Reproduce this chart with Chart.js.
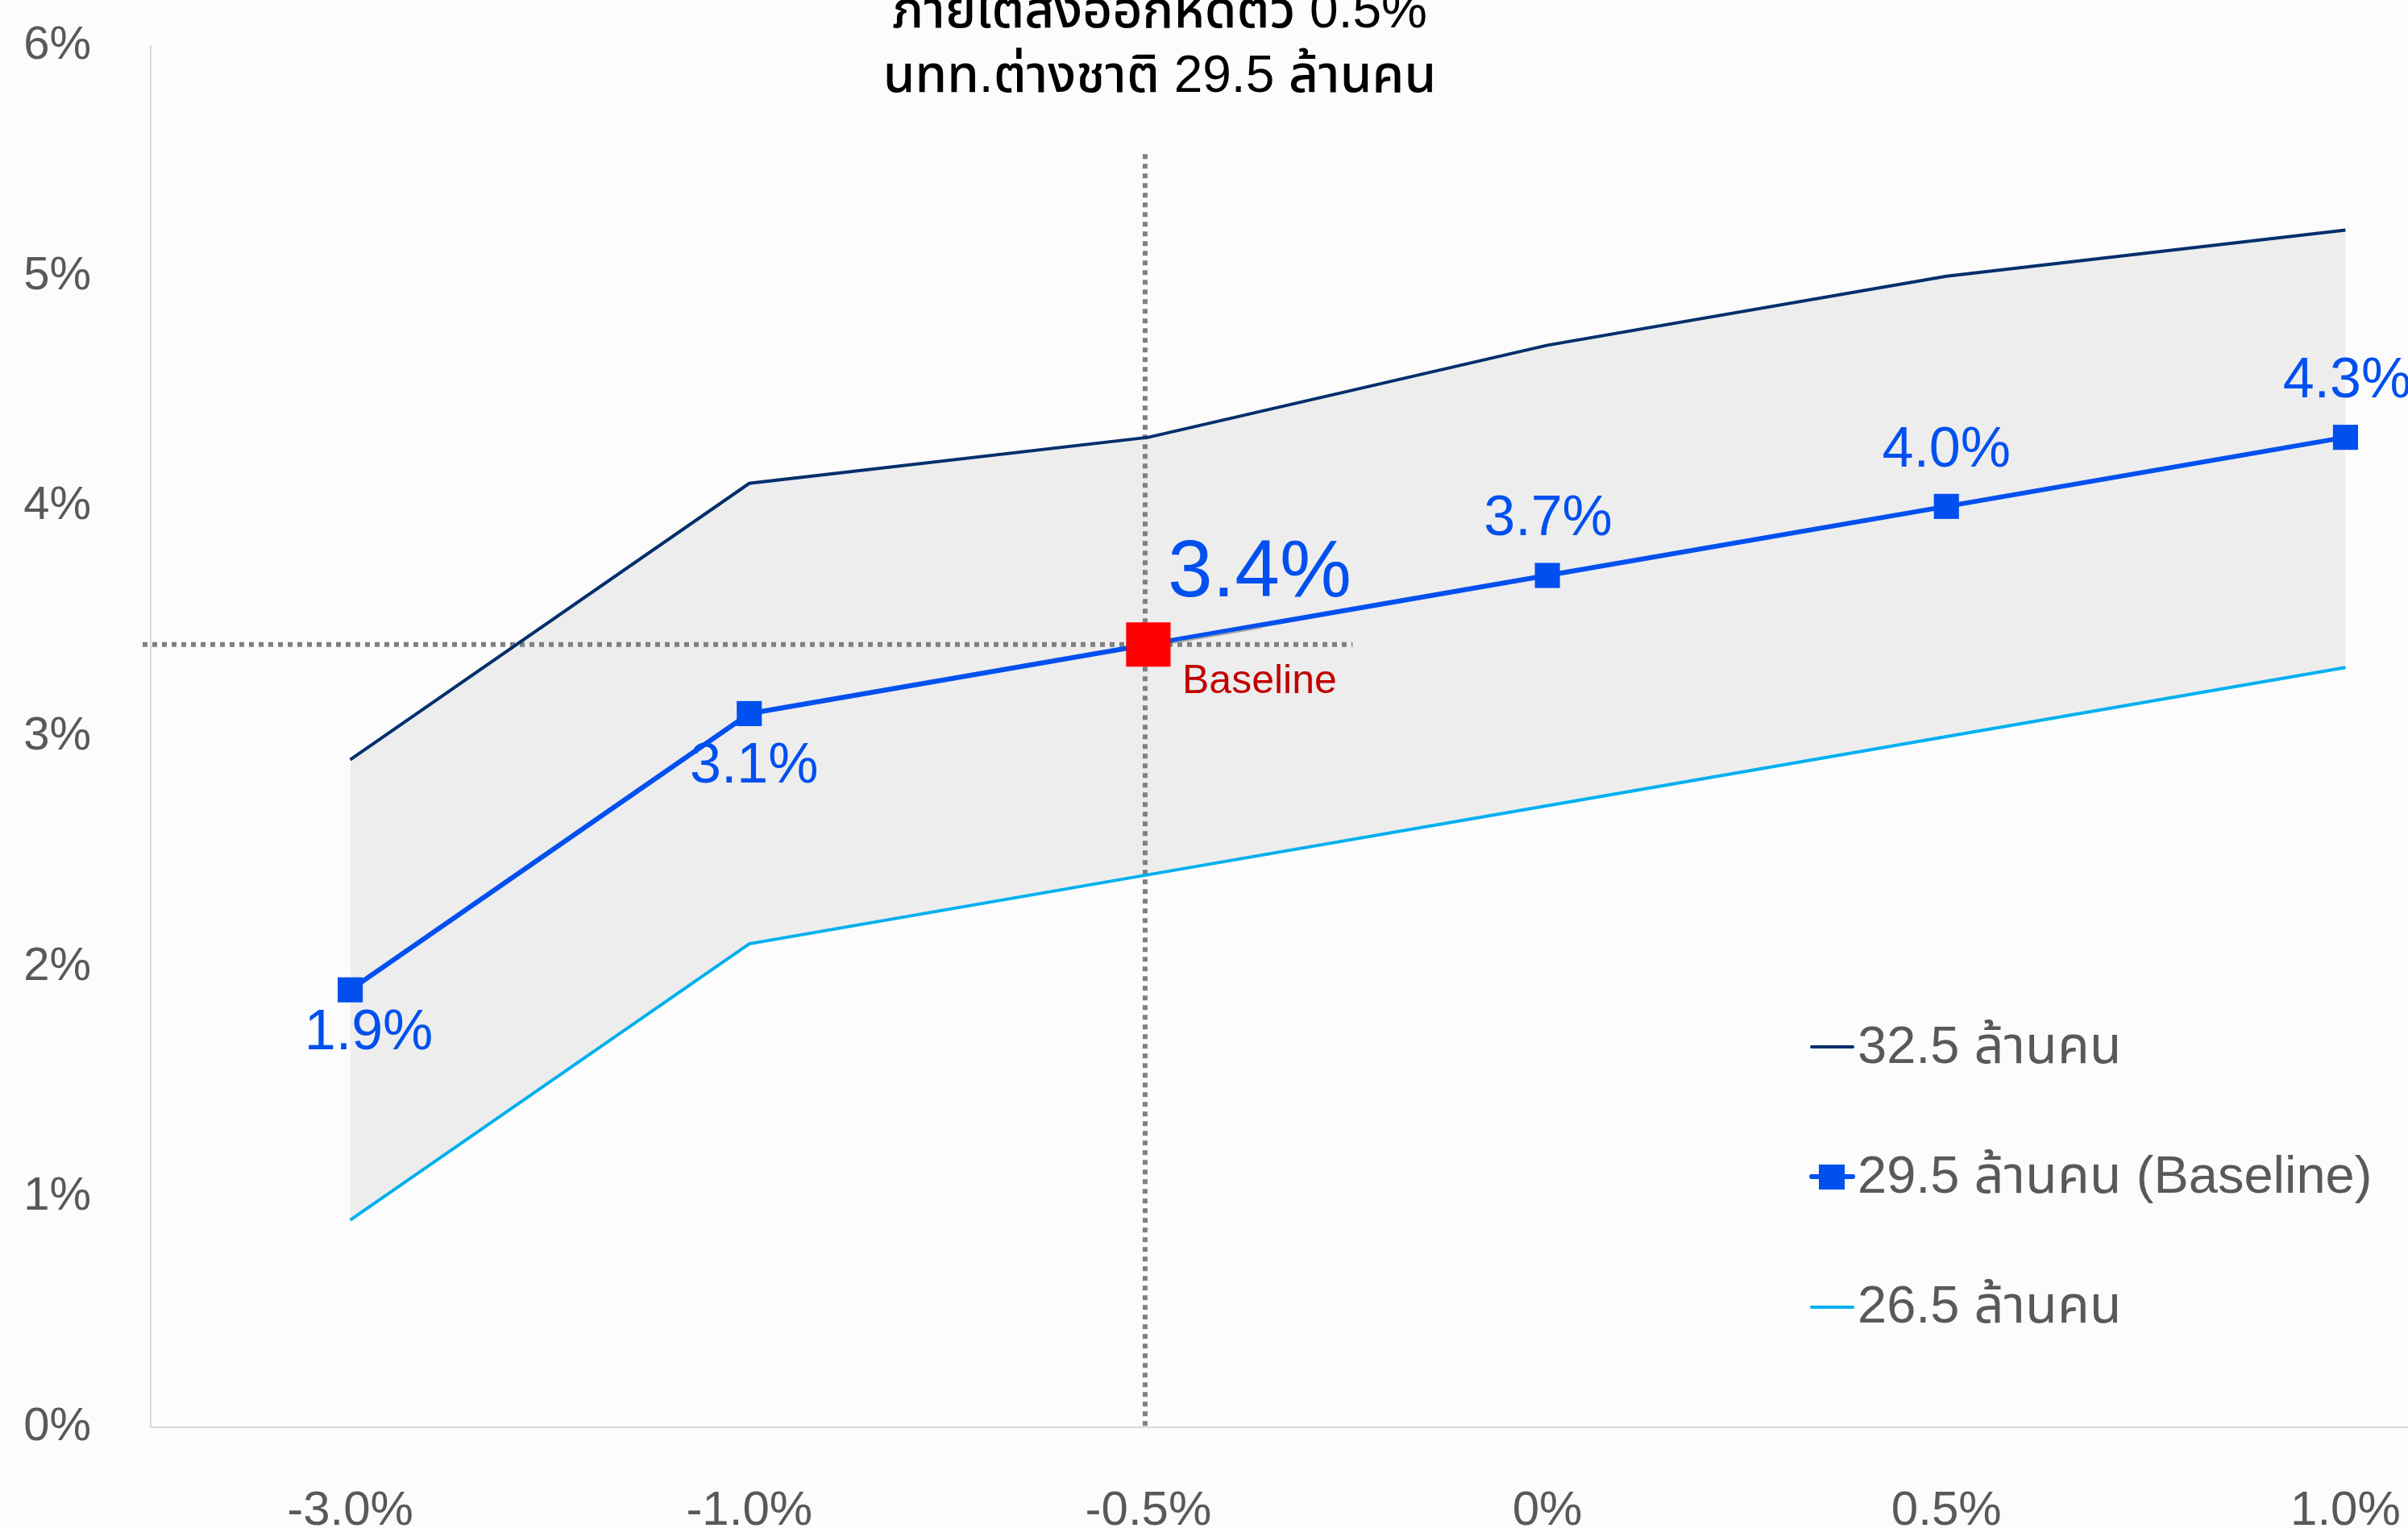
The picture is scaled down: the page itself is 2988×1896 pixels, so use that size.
<!DOCTYPE html>
<html>
<head>
<meta charset="utf-8">
<script src="https://cdn.jsdelivr.net/npm/chart.js@4.4.1/dist/chart.umd.min.js"></script>
<style>
  html, body { margin: 0; padding: 0; background: #FCFCFC; overflow: hidden; }
  #wrap { position: absolute; left: 0; top: 0; width: 3197px; height: 1896px; }
</style>
</head>
<body>
<div id="wrap"><canvas id="c" width="3197" height="1896"></canvas></div>
<script>
// Export growth scenarios (x) vs GDP growth (y), for three foreign-tourist assumptions
const categories = ['-3.0%', '-1.0%', '-0.5%', '0%', '0.5%', '1.0%'];
const tourists325 = [2.9, 4.1, 4.3, 4.7, 5.0, 5.2];
const tourists295 = [1.9, 3.1, 3.4, 3.7, 4.0, 4.3];
const tourists265 = [0.9, 2.1, 2.4, 2.7, 3.0, 3.3];
const seriesNames = ['32.5 ล้านคน', '29.5 ล้านคน (Baseline)', '26.5 ล้านคน'];
const yTicks = [0, 1, 2, 3, 4, 5, 6];
const baselineIndex = 2;              // the -0.5% export scenario
const guideTop = 5.53;                // upper end of the vertical guide
const titleLines = ['ภายใต้ส่งออกหดตัว 0.5%', 'นทท.ต่างชาติ 29.5 ล้านคน'];

const FONT = '"Liberation Sans", "Noto Sans Thai", "Noto Sans", Arial, sans-serif';
const NAVY = '#002F6C', BLUE = '#0050EF', SKY = '#00B0F0', RED = '#FF0000';

const baselineMarker = categories.map((_, i) => i === baselineIndex ? tourists295[i] : null);

// label placement for the baseline series (offsets in px from each point)
const labelPlace = [
  { dx: 23, dy: 74 }, { dx: 6, dy: 86 }, null,
  { dx: 1, dy: -50 }, { dx: 0, dy: -49 }, { dx: 2, dy: -50 }
];

const overlay = {
  id: 'overlay',
  beforeDatasetsDraw(chart) {
    const { ctx } = chart;
    const x = chart.scales.x, y = chart.scales.y;
    const bx = x.getPixelForValue(baselineIndex) - 4;
    const by = y.getPixelForValue(tourists295[baselineIndex]);
    ctx.save();
    ctx.strokeStyle = '#808080';
    ctx.lineWidth = 6;
    ctx.lineCap = 'butt';
    ctx.setLineDash([6, 6]);
    ctx.beginPath();
    ctx.moveTo(bx, y.getPixelForValue(guideTop));
    ctx.lineTo(bx, y.getPixelForValue(0));
    ctx.stroke();
    const step = x.getPixelForValue(1) - x.getPixelForValue(0);
    ctx.beginPath();
    ctx.moveTo(chart.chartArea.left - 10, by);
    ctx.lineTo(bx + step * 0.52, by);
    ctx.stroke();
    ctx.restore();
  },
  afterDraw(chart) {
    const { ctx } = chart;
    const x = chart.scales.x, y = chart.scales.y;
    ctx.save();
    // title
    ctx.fillStyle = '#000000';
    ctx.font = '500 64px ' + FONT;
    ctx.textAlign = 'center';
    ctx.textBaseline = 'alphabetic';
    ctx.fillText(titleLines[0], 1439, 34);
    ctx.fillText(titleLines[1], 1439, 114);

    // value labels on the baseline series
    ctx.fillStyle = BLUE;
    ctx.font = '70px ' + FONT;
    tourists295.forEach((v, i) => {
      const p = labelPlace[i];
      if (!p) return;
      const px = x.getPixelForValue(i), py = y.getPixelForValue(v);
      ctx.fillText(v.toFixed(1) + '%', px + p.dx, py + p.dy);
    });

    // baseline callout
    const bx = x.getPixelForValue(baselineIndex);
    const by = y.getPixelForValue(tourists295[baselineIndex]);
    ctx.strokeStyle = '#A6A6A6';
    ctx.lineWidth = 2;
    ctx.beginPath();
    ctx.moveTo(bx + 30, by - 2);
    ctx.lineTo(bx + 141, by - 21);
    ctx.stroke();
    ctx.fillStyle = BLUE;
    ctx.font = '100px ' + FONT;
    ctx.fillText(tourists295[baselineIndex].toFixed(1) + '%', bx + 138, by - 60);
    ctx.fillStyle = '#C00000';
    ctx.font = '50px ' + FONT;
    ctx.fillText('Baseline', bx + 138, by + 60);

    // legend
    const rows = [
      { ds: 0, lineY: 1299, textY: 1319, width: 4 },
      { ds: 1, lineY: 1460, textY: 1480, width: 6, marker: true },
      { ds: 2, lineY: 1622, textY: 1641, width: 4 }
    ];
    ctx.textAlign = 'left';
    ctx.font = '65px ' + FONT;
    rows.forEach(r => {
      const ds = chart.data.datasets[r.ds];
      ctx.strokeStyle = ds.borderColor;
      ctx.lineWidth = r.width;
      ctx.lineCap = 'round';
      ctx.beginPath();
      ctx.moveTo(2248, r.lineY);
      ctx.lineTo(2299, r.lineY);
      ctx.stroke();
      if (r.marker) {
        ctx.fillStyle = ds.borderColor;
        ctx.fillRect(2257, r.lineY - 15, 32, 31);
      }
      ctx.fillStyle = '#595959';
      ctx.fillText(ds.label, 2305, r.textY);
    });
    ctx.restore();
  }
};

new Chart(document.getElementById('c'), {
  type: 'line',
  data: {
    labels: categories,
    datasets: [
      {
        label: seriesNames[0], data: tourists325,
        borderColor: NAVY, borderWidth: 4, pointRadius: 0,
        backgroundColor: '#EDEDED', fill: 2, tension: 0
      },
      {
        label: seriesNames[1], data: tourists295,
        borderColor: BLUE, borderWidth: 6, fill: false, tension: 0,
        pointStyle: 'rect', pointRadius: 22, pointBorderWidth: 0,
        pointBackgroundColor: BLUE
      },
      {
        label: seriesNames[2], data: tourists265,
        borderColor: SKY, borderWidth: 4, pointRadius: 0, fill: false, tension: 0
      },
      {
        label: 'Baseline', data: baselineMarker, order: -1,
        showLine: false, pointStyle: 'rect', pointRadius: 39,
        pointBorderWidth: 0, pointBackgroundColor: RED, borderColor: RED
      }
    ]
  },
  options: {
    responsive: false,
    animation: false,
    devicePixelRatio: 1,
    layout: { padding: { top: 57, left: 0, right: 0, bottom: 0 } },
    plugins: {
      legend: { display: false },
      tooltip: { enabled: false },
      filler: { drawTime: 'beforeDatasetsDraw' }
    },
    scales: {
      x: {
        offset: true,
        grid: { display: false, drawTicks: false },
        border: { color: '#D9D9D9', width: 2 },
        ticks: {
          color: '#595959', font: { family: FONT, size: 60 },
          padding: 68, autoSkip: false, maxRotation: 0
        },
        afterFit(s) { s.height = 125; }
      },
      y: {
        min: yTicks[0], max: yTicks[yTicks.length - 1],
        grid: { display: false, drawTicks: false },
        border: { color: '#D9D9D9', width: 2 },
        afterBuildTicks(s) { s.ticks = yTicks.map(v => ({ value: v })); },
        ticks: {
          color: '#595959', font: { family: FONT, size: 58 },
          padding: 74, callback: v => v + '%'
        },
        afterFit(s) { s.width = 187; s.paddingTop = 0; s.paddingBottom = 0; }
      }
    }
  },
  plugins: [overlay]
});
</script>
</body>
</html>
